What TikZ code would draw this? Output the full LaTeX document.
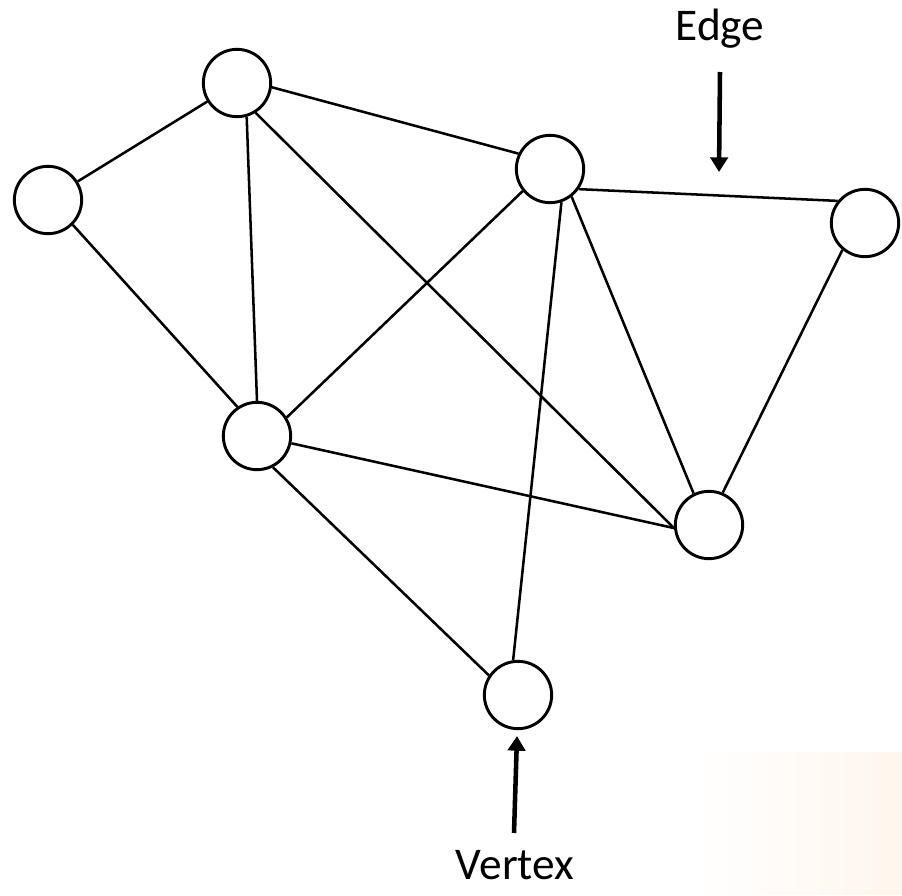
\documentclass[tikz,border=0pt]{standalone}
\usepackage{fontspec}
\setmainfont{Carlito}
\usetikzlibrary{arrows.meta,fadings}

\begin{document}
\begin{tikzpicture}[x=0.75pt,y=-0.75pt,
    vertex/.style={circle,draw,line width=2.2pt,minimum size=50.5pt,inner sep=0pt},
    link/.style={line width=1.9pt},
    pointer/.style={line width=3.4pt,-{Triangle[length=11pt,width=13pt]}},
    lbl/.style={font=\fontsize{34}{40}\selectfont,anchor=base,inner sep=0pt}]
   \useasboundingbox (0,0) rectangle (902,895);
   % faint backdrop, bottom right
   \fill[orange!7,path fading=west] (690,752) rectangle (902,895);

   \node[vertex] (v1) at (48,200) {};
   \node[vertex] (v2) at (237,83)  {};
   \node[vertex] (v3) at (550,169) {};
   \node[vertex] (v4) at (865,223) {};
   \node[vertex] (v5) at (257,436) {};
   \node[vertex] (v6) at (709,525) {};
   \node[vertex] (v7) at (518,695) {};

   \path[link]
    (v1.32)  edge (v2.212)
    (v1.-45) edge (v5.124)
    (v2.-74) edge (v5.90)
    (v2.-7)  edge (v3.154)
    (v2.-58) edge (v6.185)
    (v3.-35) edge (v4.141)
    (v3.219) edge (v5.32)
    (v3.-52) edge (v6.116)
    (v3.-71) edge (v7.98)
    (v4.230) edge (v6.67)
    (v5.-12) edge (v6.185)
    (v5.-63) edge (v7.146);

   \node[lbl] (edgelbl)   at (720,41)  {Edge};
   \node[lbl] (vertexlbl) at (515,879) {Vertex};
   \coordinate (edgetail) at (720,72);
   \coordinate (edgetip)  at (719,172);
   \coordinate (vtxtail)  at (514,833);
   \coordinate (vtxtip)   at (517,736);
   \draw[pointer] (edgetail) -- (edgetip);
   \draw[pointer] (vtxtail) -- (vtxtip);
\end{tikzpicture}
\end{document}
